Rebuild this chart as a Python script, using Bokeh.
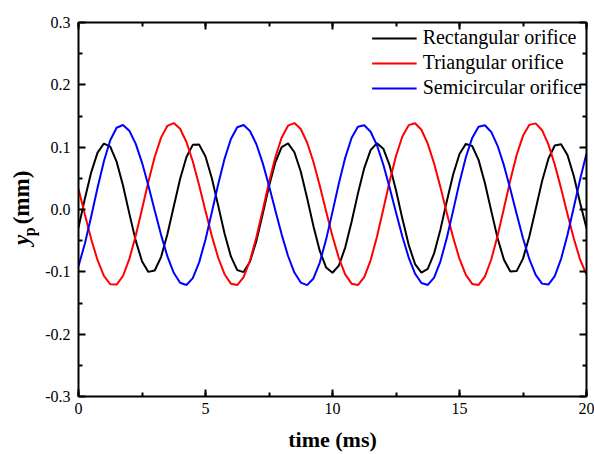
import math
from bokeh.plotting import figure
from bokeh.layouts import row
from bokeh.models import (Range1d, LinearAxis, SingleIntervalTicker, FixedTicker,
                          PrintfTickFormatter, CustomJSTickFormatter)
from bokeh.core.properties import value
from bokeh.embed import file_html
from bokeh.resources import INLINE

# ---------------- data ----------------
time_ms = [0.0, 0.25, 0.5, 0.75, 1.0, 1.25, 1.5, 1.75, 2.0, 2.25,
           2.5, 2.75, 3.0, 3.25, 3.5, 3.75, 4.0, 4.25, 4.5, 4.75,
           5.0, 5.25, 5.5, 5.75, 6.0, 6.25, 6.5, 6.75, 7.0, 7.25,
           7.5, 7.75, 8.0, 8.25, 8.5, 8.75, 9.0, 9.25, 9.5, 9.75,
           10.0, 10.25, 10.5, 10.75, 11.0, 11.25, 11.5, 11.75, 12.0, 12.25,
           12.5, 12.75, 13.0, 13.25, 13.5, 13.75, 14.0, 14.25, 14.5, 14.75,
           15.0, 15.25, 15.5, 15.75, 16.0, 16.25, 16.5, 16.75, 17.0, 17.25,
           17.5, 17.75, 18.0, 18.25, 18.5, 18.75, 19.0, 19.25, 19.5, 19.75,
           20.0]

rectangular = [-0.0290, 0.0172, 0.0596, 0.0912, 0.1058, 0.1007, 0.0768, 0.0388, -0.0062, -0.0495,
               -0.0830, -0.1001, -0.0978, -0.0763, -0.0398, 0.0048, 0.0489, 0.0841, 0.1037, 0.1041,
               0.0850, 0.0502, 0.0062, -0.0384, -0.0753, -0.0973, -0.1004, -0.0838, -0.0508, -0.0077,
               0.0374, 0.0758, 0.1002, 0.1060, 0.0919, 0.0609, 0.0186, -0.0267, -0.0665, -0.0931,
               -0.1015, -0.0901, -0.0611, -0.0200, 0.0255, 0.0665, 0.0953, 0.1064, 0.0976, 0.0707,
               0.0308, -0.0146, -0.0567, -0.0875, -0.1012, -0.0952, -0.0705, -0.0319, 0.0132, 0.0562,
               0.0890, 0.1053, 0.1019, 0.0796, 0.0425, -0.0022, -0.0460, -0.0806, -0.0994, -0.0988,
               -0.0788, -0.0434, 0.0007, 0.0452, 0.0815, 0.1027, 0.1048, 0.0874, 0.0537, 0.0103,
               -0.0300]

triangular = [0.0331, -0.0080, -0.0475, -0.0814, -0.1064, -0.1199, -0.1205, -0.1067, -0.0796, -0.0425,
              0.0005, 0.0444, 0.0842, 0.1153, 0.1342, 0.1387, 0.1296, 0.1083, 0.0771, 0.0389,
              -0.0023, -0.0424, -0.0774, -0.1038, -0.1190, -0.1212, -0.1086, -0.0822, -0.0450, -0.0014,
              0.0433, 0.0839, 0.1155, 0.1345, 0.1386, 0.1291, 0.1075, 0.0761, 0.0380, -0.0031,
              -0.0430, -0.0778, -0.1040, -0.1190, -0.1212, -0.1084, -0.0815, -0.0438, 0.0003, 0.0453,
              0.0859, 0.1172, 0.1353, 0.1383, 0.1279, 0.1056, 0.0738, 0.0355, -0.0055, -0.0450,
              -0.0793, -0.1049, -0.1194, -0.1210, -0.1076, -0.0802, -0.0421, 0.0021, 0.0471, 0.0874,
              0.1182, 0.1358, 0.1382, 0.1272, 0.1045, 0.0723, 0.0339, -0.0071, -0.0465, -0.0805,
              -0.1045]

semicircular = [-0.0907, -0.0550, -0.0112, 0.0349, 0.0774, 0.1110, 0.1312, 0.1356, 0.1264, 0.1057,
                0.0753, 0.0384, -0.0016, -0.0407, -0.0752, -0.1016, -0.1175, -0.1212, -0.1102, -0.0848,
                -0.0480, -0.0045, 0.0404, 0.0813, 0.1131, 0.1319, 0.1355, 0.1260, 0.1051, 0.0748,
                0.0381, -0.0015, -0.0403, -0.0746, -0.1011, -0.1172, -0.1213, -0.1106, -0.0851, -0.0479,
                -0.0038, 0.0418, 0.0829, 0.1146, 0.1327, 0.1352, 0.1247, 0.1030, 0.0721, 0.0350,
                -0.0047, -0.0433, -0.0771, -0.1028, -0.1179, -0.1210, -0.1093, -0.0831, -0.0458, -0.0018,
                0.0432, 0.0838, 0.1149, 0.1327, 0.1352, 0.1244, 0.1022, 0.0707, 0.0330, -0.0073,
                -0.0461, -0.0797, -0.1048, -0.1189, -0.1205, -0.1069, -0.0792, -0.0408, 0.0036, 0.0484,
                0.0900]

series_names = ["Rectangular orifice", "Triangular orifice", "Semicircular orifice"]
series_colors = ["#000000", "#ff0000", "#0000ff"]

y_major = [-0.3, -0.2, -0.1, 0.0, 0.1, 0.2, 0.3]
y_minor = [-0.25, -0.15, -0.05, 0.05, 0.15, 0.25]

FONT = "Liberation Serif"

# ---------------- main plot ----------------
p = figure(width=554, height=454, output_backend="svg", toolbar_location=None,
           x_range=Range1d(0, 20), y_range=Range1d(-0.3, 0.3),
           min_border_left=38, min_border_right=8, min_border_top=22, min_border_bottom=58)
p.grid.visible = False
p.outline_line_color = None
p.background_fill_color = "white"
p.border_fill_color = "white"

for ys, name, col in zip([rectangular, triangular, semicircular], series_names, series_colors):
    p.line(time_ms, ys, line_width=2, line_color=col, legend_label=name)


def style_axis(ax):
    ax.axis_line_width = 2
    ax.axis_line_color = "black"
    ax.major_tick_in = 7
    ax.major_tick_out = 0
    ax.minor_tick_in = 4
    ax.minor_tick_out = 0
    ax.major_tick_line_width = 2
    ax.minor_tick_line_width = 2
    ax.major_tick_line_color = "black"
    ax.minor_tick_line_color = "black"
    ax.major_label_text_font = FONT
    ax.major_label_text_font_size = "16px"
    ax.major_label_text_color = "black"


xb = p.xaxis[0]
xb.ticker = SingleIntervalTicker(interval=5, num_minor_ticks=2)
style_axis(xb)
xb.major_label_standoff = 6
xb.axis_label = "time (ms)"
xb.axis_label_text_font = FONT
xb.axis_label_text_font_style = "bold"
xb.axis_label_text_font_size = "22px"
xb.axis_label_text_color = "black"
xb.axis_label_standoff = 10

yl = p.yaxis[0]
yl.ticker = FixedTicker(ticks=y_major, minor_ticks=y_minor)
yl.formatter = PrintfTickFormatter(format="%.1f")
style_axis(yl)
yl.major_label_standoff = 8

blank = CustomJSTickFormatter(code="return ''")
xt = LinearAxis(ticker=SingleIntervalTicker(interval=5, num_minor_ticks=2), formatter=blank)
style_axis(xt)
xt.major_label_standoff = 0
p.add_layout(xt, "above")
yr = LinearAxis(ticker=FixedTicker(ticks=y_major, minor_ticks=y_minor), formatter=blank)
style_axis(yr)
yr.major_label_standoff = 0
p.add_layout(yr, "right")

lg = p.legend[0]
lg.location = "top_right"
lg.border_line_alpha = 0
lg.background_fill_alpha = 0
lg.label_text_font = FONT
lg.label_text_font_size = "20px"
lg.label_text_color = "black"
lg.glyph_width = 45
lg.glyph_height = 20
lg.label_height = 20
lg.spacing = 2
lg.padding = 4
lg.margin = 0
lg.label_standoff = 6

# ---------------- y-axis title strip: y (bold italic), subscript p, (mm) ----------------
side = figure(width=40, height=454, output_backend="svg", toolbar_location=None,
              x_range=Range1d(0, 40), y_range=Range1d(0, 454),
              x_axis_type=None, y_axis_type=None,
              min_border_left=0, min_border_right=0, min_border_top=0, min_border_bottom=0)
side.grid.visible = False
side.outline_line_color = None
side.background_fill_color = "white"
side.border_fill_color = "white"
side.text(x=[21], y=[184], text=["y"], angle=math.pi / 2, text_font=value(FONT),
          text_font_style="bold italic", text_font_size="23px", text_color="black",
          text_align="left", text_baseline="middle")
side.text(x=[28.5], y=[194.5], text=["p"], angle=math.pi / 2, text_font=value(FONT),
          text_font_style="bold", text_font_size="16px", text_color="black",
          text_align="left", text_baseline="middle")
side.text(x=[21], y=[209], text=["(mm)"], angle=math.pi / 2, text_font=value(FONT),
          text_font_style="bold", text_font_size="23px", text_color="black",
          text_align="left", text_baseline="middle")

layout = row(side, p)
open("out.html", "w").write(file_html(layout, INLINE))
